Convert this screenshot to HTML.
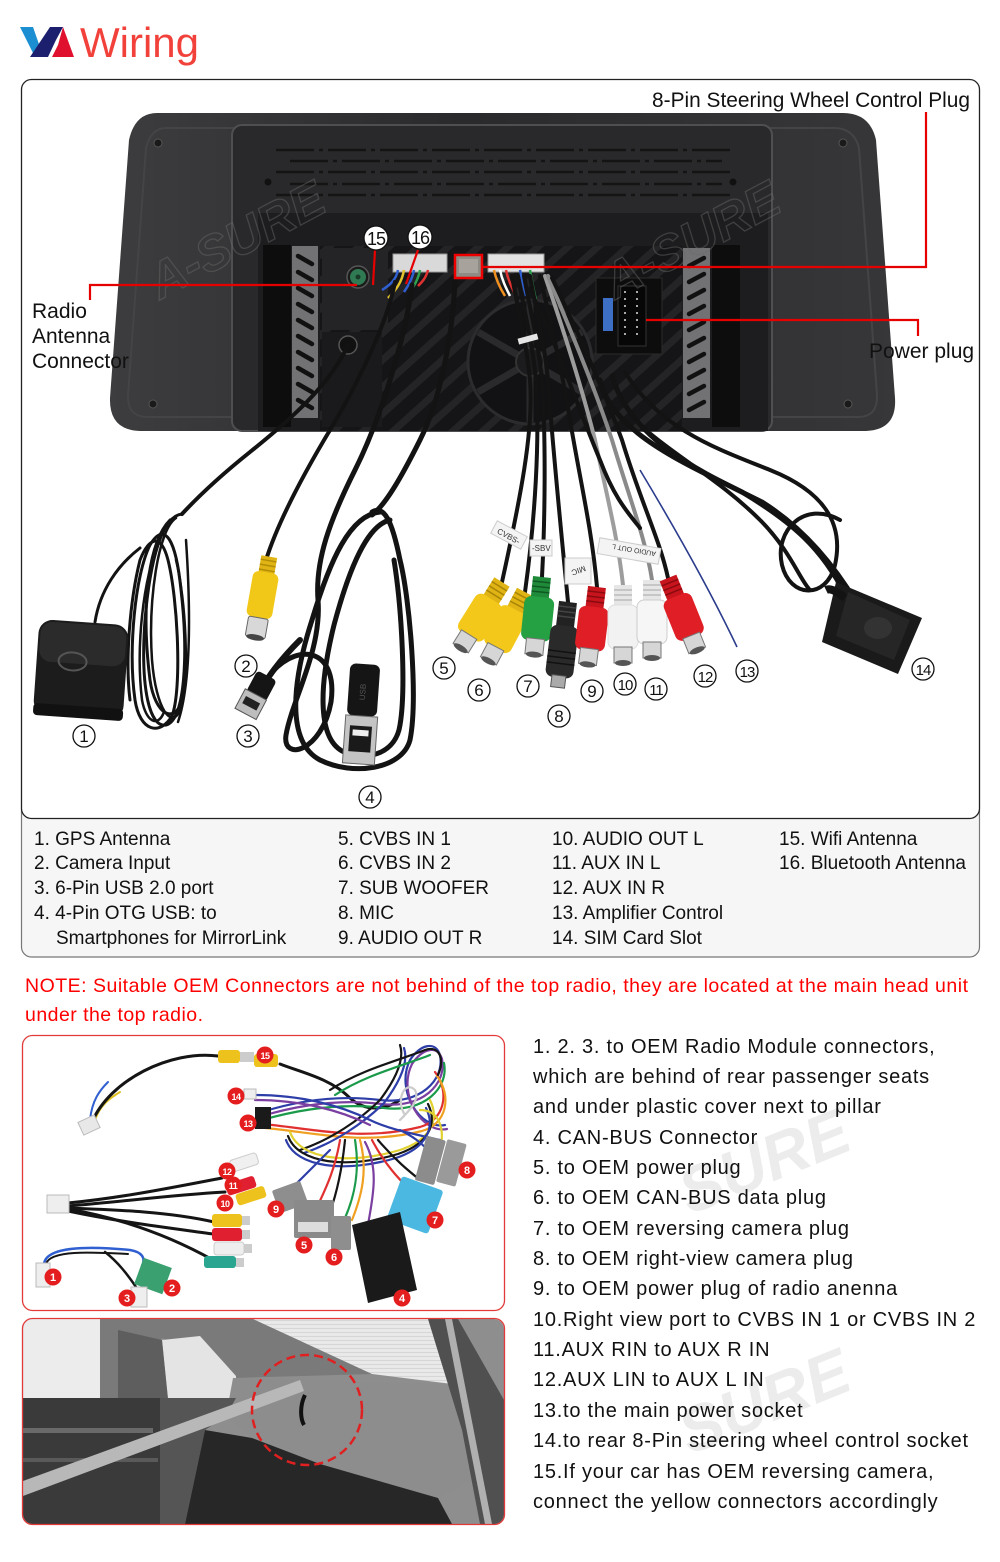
<!DOCTYPE html>
<html><head><meta charset="utf-8">
<style>
html,body{margin:0;padding:0;background:#fff;}
svg{display:block;}
text{font-family:"Liberation Sans",Arial,sans-serif;}
</style></head><body>
<svg width="1000" height="1562" viewBox="0 0 1000 1562" xmlns="http://www.w3.org/2000/svg">
<defs>
 <linearGradient id="bodyg" x1="0" y1="0" x2="1" y2="0">
  <stop offset="0" stop-color="#3d3d3f"/><stop offset="0.45" stop-color="#2a2a2c"/><stop offset="1" stop-color="#373739"/>
 </linearGradient>
 <pattern id="hatch" width="20" height="20" patternUnits="userSpaceOnUse" patternTransform="rotate(-42)">
   <rect width="20" height="20" fill="#151517"/>
   <rect width="20" height="7" fill="#242426"/>
 </pattern>
 <pattern id="stripes" width="8" height="4" patternUnits="userSpaceOnUse">
   <rect width="8" height="4" fill="#e9e9e9"/><rect width="8" height="1" fill="#d6d6d6"/>
 </pattern>
 <clipPath id="clip2"><rect x="23" y="1319" width="481" height="205" rx="10"/></clipPath>
</defs>

<!-- HEADER -->
<polygon points="20,27 33,27 41,50 35,57" fill="#1b8fd2"/>
<polygon points="30,57 50,27 63,27 56,40 48,57" fill="#1c1f6e"/>
<polygon points="63,27 74,57 52,57 58,45" fill="#e0102f"/>
<text x="80" y="57" font-size="42" fill="#f2413a">Wiring</text>

<!-- LEGEND BOX + MAIN BOX -->
<rect x="21.5" y="800" width="958" height="157" rx="10" fill="#f6f6f6" stroke="#777" stroke-width="1.2"/>
<rect x="21.5" y="79.5" width="958" height="739" rx="10" fill="#fff" stroke="#222" stroke-width="1.3"/>

<!-- DEVICE BODY -->
<path d="M157,113 L843,113 Q870,113 876,140 L895,398 Q897,430 866,431 L140,431 Q109,430 110,398 L129,140 Q135,113 157,113 Z" fill="url(#bodyg)"/>
<path d="M166,128 L834,128 Q854,128 859,148 L877,395 Q878,417 858,417 L148,417 Q127,417 128,395 L146,148 Q151,128 166,128 Z" fill="none" stroke="#444446" stroke-width="2"/>
<g fill="#1a1a1a" stroke="#555" stroke-width="1">
 <circle cx="158" cy="143" r="4"/><circle cx="153" cy="404" r="4"/><circle cx="843" cy="143" r="4"/><circle cx="848" cy="404" r="4"/>
</g>
<rect x="232" y="125" width="540" height="306" rx="10" fill="#29292b" stroke="#4f4f51" stroke-width="2"/>
<g stroke="#141414" stroke-width="2.5" stroke-dasharray="38 5 4 5">
 <line x1="276" y1="150" x2="732" y2="150"/>
 <line x1="290" y1="161" x2="722" y2="161"/>
 <line x1="276" y1="172" x2="732" y2="172"/>
 <line x1="290" y1="184" x2="722" y2="184"/>
 <line x1="276" y1="195" x2="732" y2="195"/>
</g>
<circle cx="268" cy="182" r="3.5" fill="#111"/><circle cx="733" cy="182" r="3.5" fill="#111"/>
<rect x="258" y="213" width="510" height="218" fill="#1d1d1f"/>
<rect x="263" y="245" width="28" height="182" fill="#0d0d0d"/>
<rect x="712" y="245" width="28" height="182" fill="#0d0d0d"/>
<rect x="292" y="246" width="26" height="172" fill="#727274"/>
<rect x="683" y="248" width="27" height="170" fill="#727274"/>
<g stroke="#111" stroke-width="4.5" stroke-linecap="round">
 <line x1="298" y1="256" x2="312" y2="264"/><line x1="298" y1="272" x2="312" y2="280"/><line x1="298" y1="288" x2="312" y2="296"/><line x1="298" y1="304" x2="312" y2="312"/><line x1="298" y1="320" x2="312" y2="328"/><line x1="298" y1="336" x2="312" y2="344"/><line x1="298" y1="352" x2="312" y2="360"/><line x1="298" y1="368" x2="312" y2="376"/><line x1="298" y1="384" x2="312" y2="392"/><line x1="298" y1="400" x2="312" y2="408"/>
 <line x1="689" y1="266" x2="704" y2="258"/><line x1="689" y1="282" x2="704" y2="274"/><line x1="689" y1="298" x2="704" y2="290"/><line x1="689" y1="314" x2="704" y2="306"/><line x1="689" y1="330" x2="704" y2="322"/><line x1="689" y1="346" x2="704" y2="338"/><line x1="689" y1="362" x2="704" y2="354"/><line x1="689" y1="378" x2="704" y2="370"/><line x1="689" y1="394" x2="704" y2="386"/><line x1="689" y1="410" x2="704" y2="402"/>
</g>
<rect x="320" y="246" width="362" height="185" fill="url(#hatch)"/>
<rect x="322" y="248" width="66" height="82" fill="#242426"/>
<circle cx="358" cy="277" r="11" fill="#1a1a1a" stroke="#555" stroke-width="1.5"/>
<circle cx="358" cy="277" r="8" fill="#2f7a52"/>
<circle cx="358" cy="277" r="2.5" fill="#1a3a28"/>
<rect x="322" y="332" width="60" height="95" fill="#1a1a1c"/>
<circle cx="348" cy="345" r="9" fill="#111" stroke="#555" stroke-width="1.5"/>
<circle cx="530" cy="362" r="62" fill="#121214" stroke="#2c2c2e" stroke-width="3"/>
<g stroke="#2a2a2c" stroke-width="7">
 <line x1="530" y1="362" x2="530" y2="302"/><line x1="530" y1="362" x2="582" y2="332"/><line x1="530" y1="362" x2="582" y2="392"/><line x1="530" y1="362" x2="530" y2="422"/><line x1="530" y1="362" x2="478" y2="392"/><line x1="530" y1="362" x2="478" y2="332"/>
</g>
<circle cx="530" cy="362" r="14" fill="#1c1c1e" stroke="#333" stroke-width="2"/>
<rect x="596" y="278" width="66" height="76" fill="#0d0d0d" stroke="#2a2a2a"/>
<rect x="603" y="298" width="10" height="33" fill="#3d6fc4"/>
<rect x="618" y="286" width="28" height="60" fill="#070707" stroke="#333"/>
<g fill="#ddd">
 <circle cx="625" cy="292" r="1"/><circle cx="637" cy="292" r="1"/><circle cx="625" cy="299" r="1"/><circle cx="637" cy="299" r="1"/><circle cx="625" cy="306" r="1"/><circle cx="637" cy="306" r="1"/><circle cx="625" cy="313" r="1"/><circle cx="637" cy="313" r="1"/><circle cx="625" cy="320" r="1"/><circle cx="637" cy="320" r="1"/><circle cx="625" cy="327" r="1"/><circle cx="637" cy="327" r="1"/><circle cx="625" cy="334" r="1"/><circle cx="637" cy="334" r="1"/>
</g>
<!-- connectors -->
<rect x="393" y="254" width="54" height="18" fill="#d9d9d9" stroke="#999"/>
<rect x="455" y="255" width="27" height="23" fill="#8e8a84" stroke="#e00" stroke-width="2.5"/>
<rect x="459" y="259" width="19" height="14" fill="#a7a39c"/>
<rect x="488" y="254" width="56" height="18" fill="#e2e2e2" stroke="#999"/>
<g stroke-width="2.5" fill="none">
 <path d="M398,270 C396,280 390,285 382,290" stroke="#2f5fd0"/>
 <path d="M404,270 C402,282 396,290 388,298" stroke="#e2c22c"/>
 <path d="M414,270 C412,280 408,286 404,292" stroke="#2f5fd0"/>
 <path d="M420,270 C418,280 414,286 410,292" stroke="#2fa050"/>
 <path d="M428,270 C426,278 422,282 418,286" stroke="#e03030"/>
 <path d="M494,270 C496,280 500,288 505,296" stroke="#f09020"/>
 <path d="M500,270 C502,280 506,288 510,296" stroke="#ffffff"/>
 <path d="M506,270 C508,280 512,288 516,296" stroke="#e03030"/>
 <path d="M520,270 C522,280 524,288 526,296" stroke="#2f5fd0"/>
 <path d="M530,270 C532,282 534,292 536,300" stroke="#2fa050"/>
</g>

<!-- watermarks on device -->
<g font-size="50" font-weight="bold" font-style="italic" fill="none" stroke="#6a6a6a" stroke-width="1.3" opacity="0.45">
 <text x="160" y="300" transform="rotate(-28 160 300)">A-SURE</text>
 <text x="615" y="300" transform="rotate(-28 615 300)">A-SURE</text>
</g>

<!-- RED CONNECTOR LINES -->
<g stroke="#e60000" stroke-width="2.2" fill="none">
 <polyline points="90,300 90,285 357,285"/>
 <line x1="375" y1="250" x2="373" y2="285"/>
 <line x1="418" y1="250" x2="406" y2="284"/>
 <polyline points="483,267 926,267 926,112"/>
 <polyline points="646,320 918,320 918,336"/>
</g>

<!-- CABLES -->
<g fill="none" stroke="#131313" stroke-linecap="round">
 <!-- GPS -->
 <path d="M348,345 C330,385 290,420 250,452 C215,480 195,500 182,514" stroke-width="4"/>
 <path d="M95,622 C100,590 118,565 140,548" stroke-width="3"/>
 <path d="M182,514 C162,516 150,560 145,620 C140,690 150,728 166,725 C186,720 188,650 181,590 C176,540 165,520 150,545 C135,575 128,650 135,700 C140,732 160,736 172,716 C182,690 178,600 168,560 C160,530 148,540 140,560 C130,600 125,660 130,700" stroke-width="3"/>
 <path d="M170,520 C150,540 140,600 150,680 C155,715 175,725 182,700" stroke-width="3"/>
 <path d="M176,518 C158,530 148,600 152,660 C156,710 172,730 180,710 C190,680 186,600 176,560" stroke-width="2.5"/>
 <path d="M160,540 C142,580 136,650 142,700 C146,722 158,728 164,712" stroke-width="2.5"/>
 <path d="M186,540 C190,600 192,680 178,722" stroke-width="2.5"/>
 <!-- camera -->
 <path d="M395,282 C388,320 360,380 330,430 C300,480 277,525 266,560" stroke-width="4"/>
 <!-- USB3 -->
 <path d="M412,285 C405,340 380,420 355,470 C330,520 315,560 318,600 C322,650 292,700 286,735 C282,762 322,752 331,702 C338,652 302,640 272,672" stroke-width="5"/>
 <!-- USB4 -->
 <path d="M455,282 C452,340 440,400 420,440 C400,480 385,505 372,515" stroke-width="5"/>
 <path d="M380,512 C350,515 330,560 312,620 C292,682 286,742 320,760 C352,776 402,770 410,740 C418,700 410,600 400,560 C392,520 384,505 372,512" stroke-width="5"/>
 <path d="M390,520 C368,525 350,565 334,625 C318,690 318,740 344,752 C370,762 396,752 400,725 C406,690 402,610 394,560" stroke-width="5"/>
 <path d="M300,640 C280,660 265,680 262,690" stroke-width="6"/>
 <!-- RCA bundle -->
 <path d="M512,276 C518,310 526,340 530,380 C534,430 520,500 502,582" stroke-width="4"/>
 <path d="M518,276 C524,310 532,340 536,380 C540,440 535,520 525,592" stroke-width="4"/>
 <path d="M524,276 C530,310 538,340 542,380 C546,440 545,520 542,577" stroke-width="4"/>
 <path d="M530,276 C536,310 544,340 548,380 C552,440 560,520 568,602" stroke-width="4"/>
 <path d="M540,276 C550,320 560,360 570,420 C580,480 592,530 597,587" stroke-width="4"/>
 <path d="M545,276 C560,320 580,380 595,440 C608,500 618,540 623,585" stroke="#9d9d9d" stroke-width="4"/>
 <path d="M548,276 C566,320 592,380 612,440 C630,500 646,540 652,580" stroke="#8a8a8a" stroke-width="4"/>
 <path d="M552,278 C572,320 600,380 622,440 C640,500 660,540 668,578" stroke-width="4"/>
 <path d="M535,300 C555,340 575,400 600,460 C615,500 630,515 640,528" stroke-width="4"/>
 <!-- right bundle -->
 <path d="M600,380 C612,432 682,462 742,492 C792,522 822,548 846,596" stroke-width="5"/>
 <path d="M612,376 C632,442 702,472 762,502 C802,527 832,562 856,602" stroke-width="5"/>
 <path d="M625,372 C660,430 720,450 770,470 C820,490 845,520 835,565 C826,600 790,598 782,565 C774,530 805,500 840,520" stroke-width="4"/>
 <path d="M640,425 C680,460 720,480 760,520 C790,550 800,580 810,590" stroke-width="4"/>
</g>
<!-- zip tie -->
<rect x="518" y="336" width="20" height="6" fill="#e6e6e6" transform="rotate(-15 528 339)"/>
<!-- blue thin wire 13 -->
<path d="M640,470 C670,520 710,590 737,647" stroke="#2b3c8c" stroke-width="1.6" fill="none"/>

<!-- GPS box -->
<g transform="rotate(4 80 670)">
 <rect x="36" y="622" width="90" height="95" rx="14" fill="#1c1c1c"/>
 <rect x="38" y="624" width="86" height="40" rx="12" fill="#2b2b2b"/>
 <ellipse cx="72" cy="662" rx="14" ry="9" fill="none" stroke="#555" stroke-width="2"/>
 <rect x="36" y="706" width="90" height="12" rx="4" fill="#111"/>
</g>

<!-- camera yellow RCA (2) -->
<g transform="translate(262,598) rotate(10)">
 <rect x="-8" y="-42" width="16" height="18" fill="#e0b414"/>
 <rect x="-13" y="-26" width="26" height="46" rx="6" fill="#f2c818"/>
 <g stroke="#b38d06" stroke-width="1.5"><line x1="-8" y1="-38" x2="8" y2="-38"/><line x1="-8" y1="-33" x2="8" y2="-33"/><line x1="-8" y1="-28" x2="8" y2="-28"/></g>
 <rect x="-10" y="20" width="20" height="20" rx="2" fill="#d8d8d8" stroke="#666"/>
 <ellipse cx="0" cy="40" rx="9" ry="3" fill="#444"/>
</g>
<!-- USB3 plug -->
<g transform="translate(254,698) rotate(28)">
 <rect x="-10" y="-26" width="22" height="24" rx="4" fill="#151515"/>
 <rect x="-12" y="-4" width="24" height="22" fill="#bdbdbd" stroke="#555"/>
 <rect x="-8" y="2" width="16" height="8" fill="#222"/>
</g>
<!-- USB4 plug -->
<g transform="translate(362,712) rotate(4)">
 <rect x="-15" y="-48" width="30" height="52" rx="6" fill="#151515"/>
 <text x="0" y="-18" font-size="8" fill="#555" text-anchor="middle" transform="rotate(-90 0 -20)">USB</text>
 <rect x="-16" y="4" width="32" height="48" fill="#c4c4c4" stroke="#666"/>
 <rect x="-11" y="14" width="22" height="26" fill="#1a1a1a"/>
 <rect x="-8" y="18" width="16" height="6" fill="#eee"/>
</g>

<!-- tags -->
<g font-size="8" fill="#333">
 <rect x="492" y="528" width="34" height="14" fill="#f4f4f4" stroke="#ccc" transform="rotate(28 509 535)"/>
 <text x="497" y="539" transform="rotate(28 509 535)">CVBS-</text>
 <rect x="530" y="540" width="22" height="16" fill="#f4f4f4" stroke="#ccc"/>
 <text x="532" y="551">-SBV</text>
 <rect x="565" y="558" width="26" height="26" fill="#f4f4f4" stroke="#ccc"/>
 <text x="570" y="574" transform="rotate(160 578 571)">MIC</text>
 <rect x="598" y="543" width="62" height="16" fill="#f4f4f4" stroke="#ccc" transform="rotate(10 629 551)"/>
 <text x="602" y="555" font-size="7" transform="rotate(190 629 551)">AUDIO OUT L</text>
</g>

<!-- RCA connectors -->
<g>
 <g transform="translate(502,582) rotate(32)">
  <rect x="-9" y="0" width="18" height="22" fill="#e0b414"/><g stroke="#a88406" stroke-width="1.5"><line x1="-9" y1="5" x2="9" y2="5"/><line x1="-9" y1="10" x2="9" y2="10"/><line x1="-9" y1="15" x2="9" y2="15"/></g>
  <rect x="-15" y="20" width="30" height="44" rx="7" fill="#f3c81a"/>
  <rect x="-9" y="62" width="18" height="16" fill="#d6d6d6" stroke="#777"/><ellipse cx="0" cy="78" rx="8" ry="3" fill="#555"/>
 </g>
 <g transform="translate(525,592) rotate(28)">
  <rect x="-9" y="0" width="18" height="22" fill="#e0b414"/><g stroke="#a88406" stroke-width="1.5"><line x1="-9" y1="5" x2="9" y2="5"/><line x1="-9" y1="10" x2="9" y2="10"/><line x1="-9" y1="15" x2="9" y2="15"/></g>
  <rect x="-15" y="20" width="30" height="44" rx="7" fill="#f3c81a"/>
  <rect x="-9" y="62" width="18" height="16" fill="#d6d6d6" stroke="#777"/><ellipse cx="0" cy="78" rx="8" ry="3" fill="#555"/>
 </g>
 <g transform="translate(542,577) rotate(6)">
  <rect x="-9" y="0" width="18" height="22" fill="#1f8a3a"/><g stroke="#0f5a22" stroke-width="1.5"><line x1="-9" y1="5" x2="9" y2="5"/><line x1="-9" y1="10" x2="9" y2="10"/><line x1="-9" y1="15" x2="9" y2="15"/></g>
  <rect x="-15" y="20" width="30" height="44" rx="7" fill="#25a043"/>
  <rect x="-9" y="62" width="18" height="16" fill="#d6d6d6" stroke="#777"/><ellipse cx="0" cy="78" rx="8" ry="3" fill="#555"/>
 </g>
 <g transform="translate(568,602) rotate(7)">
  <rect x="-9" y="0" width="18" height="28" fill="#222"/><g stroke="#444" stroke-width="1.5"><line x1="-9" y1="5" x2="9" y2="5"/><line x1="-9" y1="10" x2="9" y2="10"/><line x1="-9" y1="15" x2="9" y2="15"/></g>
  <rect x="-14" y="24" width="28" height="52" rx="7" fill="#2a2a2a"/>
  <g stroke="#111" stroke-width="1.5"><line x1="-14" y1="50" x2="14" y2="50"/><line x1="-14" y1="56" x2="14" y2="56"/><line x1="-14" y1="62" x2="14" y2="62"/></g>
  <rect x="-7" y="74" width="14" height="12" fill="#aaa" stroke="#555"/>
 </g>
 <g transform="translate(597,587) rotate(7)">
  <rect x="-9" y="0" width="18" height="22" fill="#c8141c"/><g stroke="#8a0a10" stroke-width="1.5"><line x1="-9" y1="5" x2="9" y2="5"/><line x1="-9" y1="10" x2="9" y2="10"/><line x1="-9" y1="15" x2="9" y2="15"/></g>
  <rect x="-15" y="20" width="30" height="44" rx="7" fill="#e01e26"/>
  <rect x="-9" y="62" width="18" height="16" fill="#d6d6d6" stroke="#777"/><ellipse cx="0" cy="78" rx="8" ry="3" fill="#555"/>
 </g>
 <g transform="translate(623,585) rotate(0)">
  <rect x="-9" y="0" width="18" height="22" fill="#e6e6e6"/><g stroke="#bbb" stroke-width="1.5"><line x1="-9" y1="5" x2="9" y2="5"/><line x1="-9" y1="10" x2="9" y2="10"/><line x1="-9" y1="15" x2="9" y2="15"/></g>
  <rect x="-15" y="20" width="30" height="44" rx="7" fill="#f2f2f2" stroke="#ddd"/>
  <rect x="-9" y="62" width="18" height="16" fill="#d6d6d6" stroke="#777"/><ellipse cx="0" cy="78" rx="8" ry="3" fill="#555"/>
 </g>
 <g transform="translate(652,580) rotate(0)">
  <rect x="-9" y="0" width="18" height="22" fill="#e6e6e6"/><g stroke="#bbb" stroke-width="1.5"><line x1="-9" y1="5" x2="9" y2="5"/><line x1="-9" y1="10" x2="9" y2="10"/><line x1="-9" y1="15" x2="9" y2="15"/></g>
  <rect x="-15" y="20" width="30" height="44" rx="7" fill="#f6f6f6" stroke="#ccc"/>
  <rect x="-9" y="62" width="18" height="16" fill="#d6d6d6" stroke="#777"/><ellipse cx="0" cy="78" rx="8" ry="3" fill="#555"/>
 </g>
 <g transform="translate(668,578) rotate(-22)">
  <rect x="-9" y="0" width="18" height="22" fill="#c8141c"/><g stroke="#8a0a10" stroke-width="1.5"><line x1="-9" y1="5" x2="9" y2="5"/><line x1="-9" y1="10" x2="9" y2="10"/><line x1="-9" y1="15" x2="9" y2="15"/></g>
  <rect x="-15" y="20" width="30" height="44" rx="7" fill="#e01e26"/>
  <rect x="-9" y="62" width="18" height="16" fill="#d6d6d6" stroke="#777"/><ellipse cx="0" cy="78" rx="8" ry="3" fill="#555"/>
 </g>
</g>

<!-- SIM box 14 -->
<polygon points="836,582 922,618 898,674 822,642" fill="#1a1a1a"/>
<polygon points="848,592 910,620 894,660 836,636" fill="#262626"/>
<ellipse cx="878" cy="628" rx="14" ry="11" fill="#333"/>
<path d="M845,598 C835,590 830,588 826,590" stroke="#131313" stroke-width="8" fill="none"/>

<!-- CIRCLED NUMBERS -->
<g fill="#fff" stroke="#111" stroke-width="1.3">
 <circle cx="84" cy="736" r="11"/><circle cx="246" cy="666" r="11"/><circle cx="248" cy="736" r="11"/><circle cx="370" cy="797" r="11"/>
 <circle cx="444" cy="668" r="11"/><circle cx="479" cy="690" r="11"/><circle cx="528" cy="686" r="11"/><circle cx="559" cy="716" r="11"/>
 <circle cx="592" cy="691" r="11"/><circle cx="625" cy="684" r="11"/><circle cx="656" cy="689" r="11"/><circle cx="705" cy="676" r="11"/>
 <circle cx="747" cy="671" r="11"/><circle cx="923" cy="669" r="11"/>
 <circle cx="376" cy="238" r="12"/><circle cx="420" cy="237" r="12"/>
</g>
<g font-size="17" fill="#111" text-anchor="middle">
 <text x="84" y="742">1</text><text x="246" y="672">2</text><text x="248" y="742">3</text><text x="370" y="803">4</text>
 <text x="444" y="674">5</text><text x="479" y="696">6</text><text x="528" y="692">7</text><text x="559" y="722">8</text>
 <text x="592" y="697">9</text><text x="625" y="690" font-size="15" letter-spacing="-1">10</text><text x="656" y="695" font-size="15" letter-spacing="-1">11</text><text x="705" y="682" font-size="15" letter-spacing="-1">12</text>
 <text x="747" y="677" font-size="15" letter-spacing="-1">13</text><text x="923" y="675" font-size="15" letter-spacing="-1">14</text>
 <text x="376" y="245" font-size="18" letter-spacing="-1">15</text><text x="420" y="244" font-size="18" letter-spacing="-1">16</text>
</g>

<!-- TOP LABELS -->
<g font-size="21" fill="#111">
 <text x="652" y="107" textLength="318" lengthAdjust="spacingAndGlyphs">8-Pin Steering Wheel Control Plug</text>
 <text x="32" y="318">Radio</text>
 <text x="32" y="343">Antenna</text>
 <text x="32" y="368">Connector</text>
 <text x="869" y="358">Power plug</text>
</g>

<!-- LEGEND -->
<g font-size="19" fill="#111">
 <text x="34" y="845">1. GPS Antenna</text>
 <text x="34" y="869">2. Camera Input</text>
 <text x="34" y="894">3. 6-Pin USB 2.0 port</text>
 <text x="34" y="919">4. 4-Pin OTG USB: to</text>
 <text x="56" y="944">Smartphones for MirrorLink</text>
 <text x="338" y="845">5. CVBS IN 1</text>
 <text x="338" y="869">6. CVBS IN 2</text>
 <text x="338" y="894">7. SUB WOOFER</text>
 <text x="338" y="919">8. MIC</text>
 <text x="338" y="944">9. AUDIO OUT R</text>
 <text x="552" y="845">10. AUDIO OUT L</text>
 <text x="552" y="869">11. AUX IN L</text>
 <text x="552" y="894">12. AUX IN R</text>
 <text x="552" y="919">13. Amplifier Control</text>
 <text x="552" y="944">14. SIM Card Slot</text>
 <text x="779" y="845">15. Wifi Antenna</text>
 <text x="779" y="869">16. Bluetooth Antenna</text>
</g>

<!-- NOTE -->
<g font-size="19.5" fill="#f00">
 <text x="25" y="992" textLength="943" lengthAdjust="spacing">NOTE: Suitable OEM Connectors are not behind of the top radio, they are located at the main head unit</text>
 <text x="25" y="1021" textLength="178" lengthAdjust="spacing">under the top radio.</text>
</g>

<!-- PHOTO 1 : harness -->
<rect x="22.5" y="1035.5" width="482" height="275" rx="10" fill="#fff" stroke="#e23a3a" stroke-width="1.3"/>
<g fill="none" stroke-linecap="round">
 <path d="M90,1120 C92,1100 100,1090 108,1082" stroke="#2f5fd0" stroke-width="2"/>
 <path d="M95,1120 C100,1105 110,1098 120,1092" stroke="#e0c020" stroke-width="2"/>
 <path d="M92,1122 C110,1080 170,1050 218,1056" stroke="#151515" stroke-width="3"/>
 <path d="M280,1064 C300,1072 330,1078 350,1098 C365,1112 385,1110 400,1100" stroke="#151515" stroke-width="3"/>
 <g stroke-width="2.2">
  <path d="M262,1112 C300,1100 340,1095 380,1100 C420,1105 445,1080 440,1055 C435,1040 420,1045 410,1060 C395,1090 420,1130 445,1125" stroke="#2d3ea8"/>
  <path d="M262,1116 C302,1104 342,1099 382,1104 C422,1109 447,1084 442,1059 C437,1044 422,1049 412,1064 C397,1094 422,1134 447,1129" stroke="#7a3fa0"/>
  <path d="M262,1120 C304,1108 344,1103 384,1108 C424,1113 449,1088 444,1063" stroke="#1a9a4a"/>
  <path d="M262,1124 C310,1128 360,1142 420,1127 C445,1120 450,1092 435,1072" stroke="#e03030"/>
  <path d="M265,1128 C312,1132 362,1146 422,1131 C447,1124 452,1096 437,1076" stroke="#f0a020"/>
  <path d="M300,1150 C330,1140 360,1120 380,1100 C395,1080 405,1060 400,1045" stroke="#151515"/>
  <path d="M304,1153 C334,1143 364,1123 384,1103 C399,1083 409,1063 404,1048" stroke="#2d3ea8"/>
  <path d="M290,1132 C300,1160 350,1165 400,1150 C430,1140 440,1120 430,1100" stroke="#e0d030"/>
  <path d="M288,1136 C298,1164 348,1169 398,1154 C428,1144 438,1124 428,1104" stroke="#151515"/>
  <path d="M286,1140 C296,1168 346,1173 396,1158 C426,1148 436,1128 426,1108" stroke="#2d3ea8"/>
  <path d="M330,1090 C360,1070 400,1060 425,1050 C440,1045 445,1060 438,1075" stroke="#151515"/>
  <path d="M335,1095 C365,1075 405,1065 430,1055" stroke="#1a9a4a"/>
  <path d="M255,1095 C300,1095 340,1105 370,1120 C390,1130 420,1135 440,1140" stroke="#2d3ea8"/>
  <path d="M255,1100 C300,1100 340,1110 370,1125" stroke="#7a3fa0"/>
  <path d="M340,1140 C335,1170 325,1190 318,1205" stroke="#e03030"/>
  <path d="M345,1140 C342,1170 336,1195 330,1212" stroke="#151515"/>
  <path d="M355,1140 C360,1170 355,1195 345,1218" stroke="#1a9a4a"/>
  <path d="M360,1140 C368,1170 362,1195 352,1220" stroke="#f0a020"/>
  <path d="M365,1142 C380,1170 372,1200 368,1225" stroke="#7a3fa0"/>
  <path d="M372,1140 C385,1165 400,1180 410,1190" stroke="#e03030"/>
  <path d="M378,1140 C395,1160 410,1172 420,1180" stroke="#151515"/>
  <path d="M400,1130 C420,1140 430,1150 432,1160" stroke="#2d3ea8"/>
  <path d="M330,1150 C315,1165 300,1180 290,1190" stroke="#2d3ea8"/>
  <path d="M420,1110 C440,1110 445,1130 440,1150" stroke="#e0d030"/>
  <path d="M400,1120 C410,1110 420,1100 415,1090 C405,1080 395,1100 405,1115" stroke="#ccc"/>
 </g>
 <path d="M68,1203 C120,1198 170,1188 222,1178" stroke="#151515" stroke-width="3"/>
 <path d="M68,1206 C120,1202 170,1195 225,1192" stroke="#151515" stroke-width="3"/>
 <path d="M68,1209 C120,1218 170,1236 213,1260" stroke="#151515" stroke-width="3"/>
 <path d="M68,1211 C120,1222 170,1228 213,1234" stroke="#151515" stroke-width="3"/>
 <path d="M68,1208 C120,1210 170,1212 214,1222" stroke="#151515" stroke-width="3"/>
 <path d="M44,1264 C46,1246 90,1246 130,1250 C142,1252 146,1258 142,1266" stroke="#2f5fd0" stroke-width="2.5"/>
 <path d="M46,1264 C50,1250 90,1252 128,1254" stroke="#151515" stroke-width="2"/>
 <path d="M105,1252 C118,1262 128,1275 138,1290" stroke="#151515" stroke-width="2.5"/>
</g>
<rect x="80" y="1118" width="18" height="14" fill="#e8e8e8" stroke="#bbb" transform="rotate(-25 89 1125)"/>
<rect x="218" y="1050" width="22" height="13" rx="3" fill="#eec21c"/>
<rect x="240" y="1052" width="14" height="10" fill="#ccc"/>
<rect x="254" y="1054" width="24" height="13" rx="3" fill="#eec21c"/>
<rect x="244" y="1089" width="12" height="10" fill="#eee" stroke="#bbb"/>
<rect x="255" y="1107" width="16" height="22" fill="#1a1a1a"/>
<g transform="rotate(-18 245 1162)"><rect x="230" y="1156" width="28" height="12" rx="3" fill="#f0f0f0" stroke="#ccc"/></g>
<g transform="rotate(-18 240 1186)"><rect x="226" y="1180" width="30" height="12" rx="3" fill="#e02030"/></g>
<g transform="rotate(-18 250 1196)"><rect x="236" y="1190" width="30" height="12" rx="3" fill="#eec21c"/></g>
<rect x="47" y="1195" width="22" height="18" fill="#eee" stroke="#bbb"/>
<rect x="212" y="1214" width="30" height="13" rx="3" fill="#eec21c"/><rect x="242" y="1216" width="8" height="9" fill="#ccc"/>
<rect x="212" y="1228" width="30" height="13" rx="3" fill="#e02030"/><rect x="242" y="1230" width="8" height="9" fill="#ccc"/>
<rect x="214" y="1242" width="30" height="13" rx="3" fill="#eee" stroke="#ccc"/><rect x="244" y="1244" width="8" height="9" fill="#ccc"/>
<rect x="204" y="1256" width="32" height="12" rx="3" fill="#2aa590"/><rect x="236" y="1258" width="8" height="9" fill="#ccc"/>
<rect x="275" y="1185" width="30" height="24" rx="2" fill="#8e8e8e" transform="rotate(-20 290 1197)"/>
<rect x="294" y="1200" width="40" height="38" rx="2" fill="#8a8a8a"/>
<rect x="298" y="1222" width="30" height="10" fill="#ddd"/>
<rect x="331" y="1216" width="20" height="34" rx="2" fill="#8e8e8e"/>
<g transform="rotate(15 440 1163)"><rect x="420" y="1140" width="20" height="46" rx="2" fill="#8c8c8c"/><rect x="441" y="1138" width="20" height="44" rx="2" fill="#9a9a9a"/></g>
<g transform="rotate(20 415 1205)"><rect x="393" y="1182" width="44" height="46" rx="3" fill="#4ab8e0"/></g>
<polygon points="352,1225 400,1212 417,1290 368,1303" fill="#1a1a1a"/>
<rect x="36" y="1263" width="14" height="24" fill="#eee" stroke="#bbb"/>
<rect x="138" y="1262" width="30" height="28" fill="#3aa070" transform="rotate(20 153 1276)"/>
<rect x="131" y="1287" width="16" height="20" fill="#eee" stroke="#bbb"/>
<g fill="#e41e1e">
 <circle cx="265" cy="1055" r="8.5"/><circle cx="236" cy="1096" r="8.5"/><circle cx="248" cy="1123" r="8.5"/>
 <circle cx="227" cy="1171" r="8.5"/><circle cx="233" cy="1185" r="8.5"/><circle cx="225" cy="1203" r="8.5"/>
 <circle cx="276" cy="1209" r="8.5"/><circle cx="467" cy="1170" r="8.5"/><circle cx="435" cy="1220" r="8.5"/>
 <circle cx="304" cy="1245" r="8.5"/><circle cx="334" cy="1257" r="8.5"/><circle cx="402" cy="1298" r="8.5"/>
 <circle cx="53" cy="1277" r="8.5"/><circle cx="172" cy="1288" r="8.5"/><circle cx="127" cy="1298" r="8.5"/>
</g>
<g font-size="11" font-weight="bold" fill="#fff" text-anchor="middle">
 <text x="265" y="1059" font-size="9" letter-spacing="-0.5">15</text><text x="236" y="1100" font-size="9" letter-spacing="-0.5">14</text><text x="248" y="1127" font-size="9" letter-spacing="-0.5">13</text>
 <text x="227" y="1175" font-size="9" letter-spacing="-0.5">12</text><text x="233" y="1189" font-size="9" letter-spacing="-0.5">11</text><text x="225" y="1207" font-size="9" letter-spacing="-0.5">10</text>
 <text x="276" y="1213">9</text><text x="467" y="1174">8</text><text x="435" y="1224">7</text>
 <text x="304" y="1249">5</text><text x="334" y="1261">6</text><text x="402" y="1302">4</text>
 <text x="53" y="1281">1</text><text x="172" y="1292">2</text><text x="127" y="1302">3</text>
</g>

<!-- PHOTO 2 : car interior -->
<g clip-path="url(#clip2)">
 <rect x="23" y="1319" width="481" height="205" fill="#8e8e8e"/>
 <rect x="23" y="1319" width="95" height="82" fill="#ececec"/>
 <polygon points="100,1319 255,1319 372,1374 233,1378 162,1338 118,1400 100,1400" fill="#7a7a7a"/>
 <polygon points="253,1319 430,1319 452,1384 372,1374" fill="url(#stripes)"/>
 <polygon points="162,1340 200,1336 236,1376 236,1398 168,1398" fill="#e4e4e4"/>
 <polygon points="118,1330 162,1340 168,1400 118,1400" fill="#5e5e5e"/>
 <polygon points="233,1378 452,1384 504,1412 504,1465 438,1498 320,1464 252,1438 226,1416" fill="#8d8d8d"/>
 <polygon points="23,1398 160,1398 175,1524 23,1524" fill="#3a3a3a"/>
 <rect x="23" y="1428" width="130" height="5" fill="#6a6a6a"/>
 <rect x="23" y="1458" width="135" height="4" fill="#5a5a5a"/>
 <polygon points="160,1398 236,1398 226,1416 205,1430 185,1524 160,1524" fill="#555"/>
 <polygon points="205,1430 252,1438 320,1464 438,1498 452,1524 185,1524" fill="#272727"/>
 <polygon points="428,1319 458,1319 504,1400 504,1524 480,1524 462,1430" fill="#505050"/>
 <polygon points="445,1319 452,1319 492,1524 485,1524" fill="#b0b0b0"/>
 <polygon points="23,1481 300,1380 304,1391 23,1496" fill="#b8b8b8"/>
 <path d="M305,1395 C300,1405 300,1418 304,1425" stroke="#111" stroke-width="4" fill="none"/>
 <circle cx="307" cy="1410" r="55" fill="none" stroke="#e02020" stroke-width="2.5" stroke-dasharray="9 5"/>
</g>
<rect x="22.5" y="1318.5" width="482" height="206" rx="10" fill="none" stroke="#e23a3a" stroke-width="1.3"/>

<!-- RIGHT TEXT watermark -->
<g font-size="64" font-weight="bold" font-style="italic" fill="#ececec">
 <text x="690" y="1215" transform="rotate(-22 690 1215)">SURE</text>
 <text x="690" y="1455" transform="rotate(-22 690 1455)">SURE</text>
</g>
<!-- RIGHT TEXT -->
<g font-size="20" fill="#111" letter-spacing="0.75">
 <text x="533" y="1053">1. 2. 3. to OEM Radio Module connectors,</text>
 <text x="533" y="1083">which are behind of rear passenger seats</text>
 <text x="533" y="1113">and under plastic cover next to pillar</text>
 <text x="533" y="1144">4. CAN-BUS Connector</text>
 <text x="533" y="1174">5. to OEM power plug</text>
 <text x="533" y="1204">6. to OEM CAN-BUS data plug</text>
 <text x="533" y="1235">7. to OEM reversing camera plug</text>
 <text x="533" y="1265">8. to OEM right-view camera plug</text>
 <text x="533" y="1295">9. to OEM power plug of radio anenna</text>
 <text x="533" y="1326">10.Right view port to CVBS IN 1 or CVBS IN 2</text>
 <text x="533" y="1356">11.AUX RIN to AUX R IN</text>
 <text x="533" y="1386">12.AUX LIN to AUX L IN</text>
 <text x="533" y="1417">13.to the main power socket</text>
 <text x="533" y="1447">14.to rear 8-Pin steering wheel control socket</text>
 <text x="533" y="1478">15.If your car has OEM reversing camera,</text>
 <text x="533" y="1508">connect the yellow connectors accordingly</text>
</g>
</svg>
</body></html>
